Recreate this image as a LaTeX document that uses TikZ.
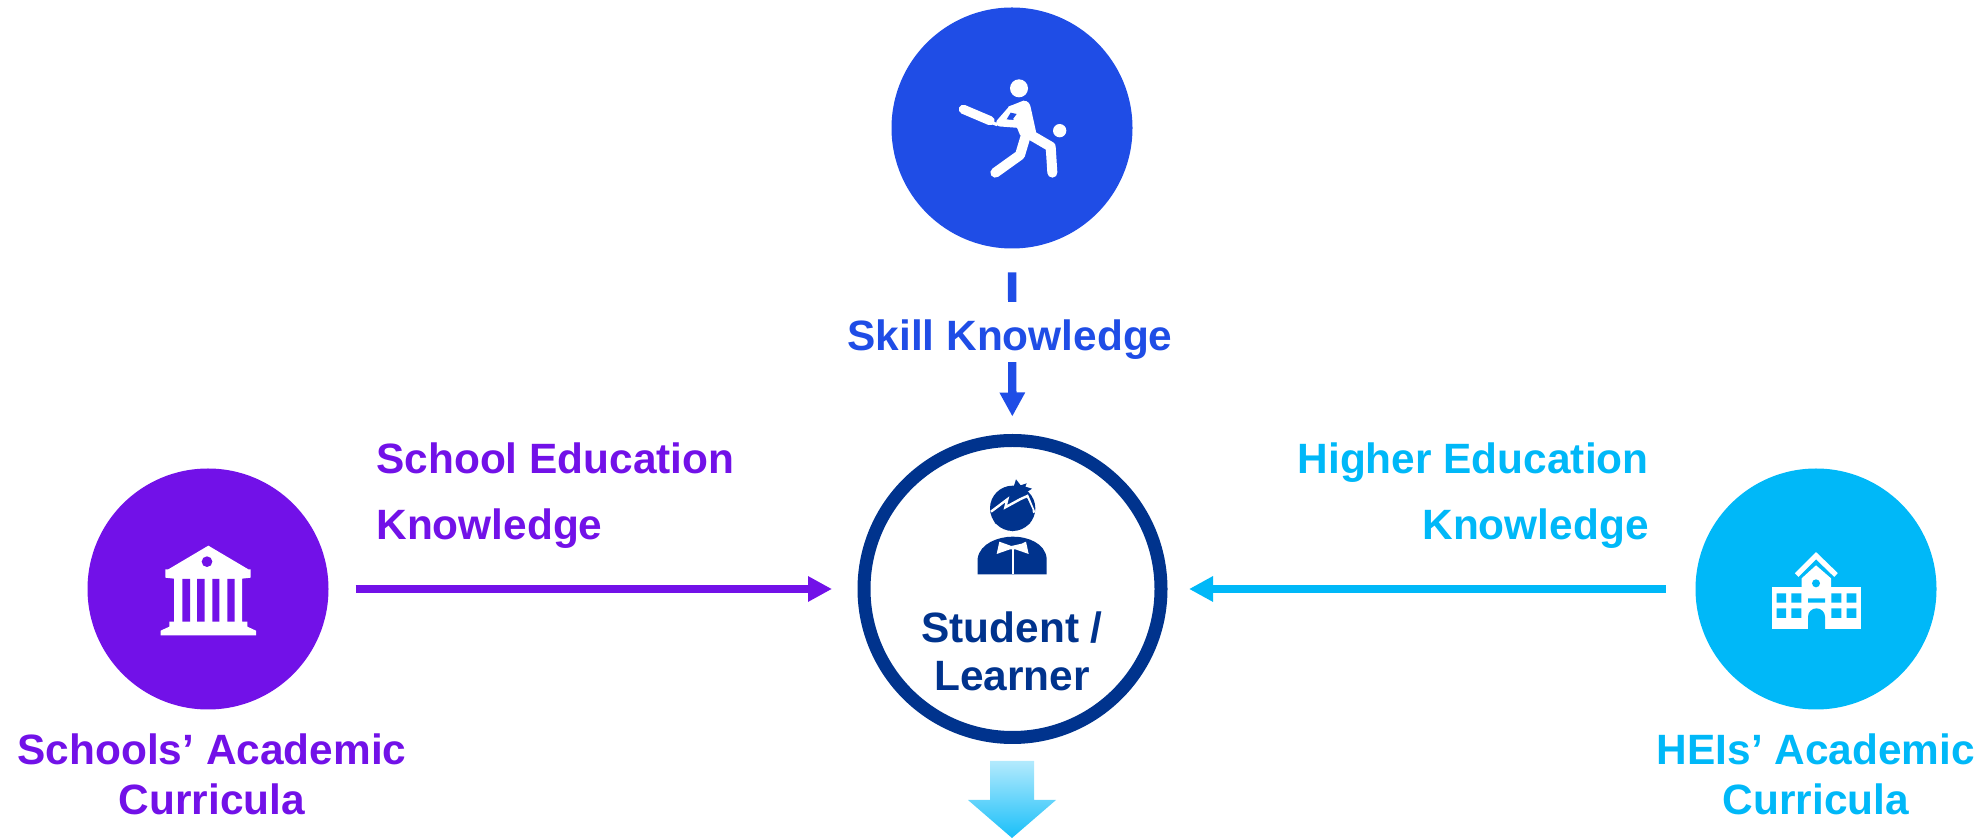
\documentclass[tikz,border=0pt]{standalone}
\usepackage{fontspec}
\setmainfont{Liberation Sans}
\usetikzlibrary{arrows.meta}
\definecolor{skillblue}{HTML}{1F4DE6}
\definecolor{schoolpurple}{HTML}{7211E8}
\definecolor{heicyan}{HTML}{00B8F8}
\definecolor{navy}{HTML}{00338D}
\tikzset{
  disc/.style={circle,minimum size=120.5pt,inner sep=0pt,outer sep=0pt,fill=#1},
  lbl/.style={text=#1,font=\fontsize{21.2}{33}\selectfont\bfseries,inner sep=0pt},
  link/.style={draw=#1,line width=4.2pt,-{Triangle[length=12pt,width=12pt]}},
  zoomed/.style={x=0.16667pt,y=-0.16667pt},
}
\begin{document}
\begin{tikzpicture}[x=0.5pt,y=-0.5pt]
\useasboundingbox (0,0) rectangle (1987,838);
% circles
\node[disc=skillblue] (skill) at (1012,128) {};
\node[disc=schoolpurple] (schools) at (208,589) {};
\node[disc=heicyan] (heis) at (1816,589) {};
\node[circle,draw=navy,line width=6.5pt,minimum size=148.5pt,inner sep=0pt,outer sep=0pt] (learner) at (1012.5,589) {};
% connectors
\draw[link=skillblue,shorten <=12pt,shorten >=12pt] (skill) -- (learner);
\node[lbl=skillblue,fill=white,anchor=base,text height=24.5pt,text depth=5.5pt] (skilllabel) at (1010,351) {Skill Knowledge};
\draw[link=schoolpurple,shorten <=13.5pt,shorten >=16pt] (schools) -- (learner);
\draw[link=heicyan,shorten <=15pt,shorten >=14pt] (heis) -- (learner);
% labels
\node[lbl=schoolpurple,align=left,anchor=west] (schoolknow) at (376,496) {School Education\\Knowledge};
\node[lbl=heicyan,align=right,anchor=east] (higherknow) at (1649,496) {Higher Education\\Knowledge};
\node[lbl=schoolpurple,align=center,font=\fontsize{21.2}{25}\selectfont\bfseries] (schoolscap) at (212,774) {Schools’ Academic\\Curricula};
\node[lbl=heicyan,align=center,font=\fontsize{21.2}{25}\selectfont\bfseries] (heiscap) at (1816,774) {HEIs’ Academic\\Curricula};
\node[lbl=navy,align=center,font=\fontsize{21.2}{24}\selectfont\bfseries] (learnerlabel) at (1012,651) {Student /\\Learner};
% batsman
\begin{scope}[shift={(880,0)},zoomed]
\fill[white] (417,265) circle (27);
\fill[white] (539,392) circle (20);
\draw[white,line width=4.6pt,line cap=round] (250,328) -- (330,362);
\draw[white,line width=1.6pt] (330,366) -- (352,374);
\fill[white] (385,320) -- (430,302) .. controls (445,302) and (450,312) .. (452,322) -- (468,395) -- (452,418) -- (420,405) -- cycle;
\draw[white,line width=3.8pt,line join=round,line cap=round] (395,328) -- (360,368) -- (412,372);
\fill[skillblue] (392,338) -- (410,342) -- (398,358) -- (380,358) -- cycle;
\draw[white,line width=5pt,line cap=round,line join=round] (346,518) -- (420,465) -- (438,405);
\draw[white,line width=5pt,line cap=round,line join=round] (452,405) -- (512,440) -- (517,518);
\end{scope}
% student
\begin{scope}[shift={(930,460)},zoomed]
\fill[navy] (248,145) circle (68);
\fill[navy] (248,90) -- (258,58) -- (272,76) -- (290,70) -- (286,80) -- (306,86) -- (285,100) -- cycle;
\draw[white,line width=1.2pt,line join=miter] (183,155) -- (232,118) -- (226,142) -- (270,118) -- (292,108) -- (313,158);
\fill[navy] (187,160) -- (225,150) -- (275,125) -- (292,115) -- (308,150) -- (300,190) -- (248,214) -- (195,190) -- cycle;
\fill[navy] (143,343) -- (143,295) .. controls (150,250) and (205,230) .. (248,230) .. controls (295,230) and (345,250) .. (350,295) -- (350,343) -- cycle;
\fill[white] (208,245) -- (244,258) -- (275,251) -- (288,245) -- (296,282) -- (256,268) -- (240,268) -- (200,282) -- cycle;
\fill[white] (245,262) rectangle (251,343);
\end{scope}
% institution
\begin{scope}[shift={(140,530)},zoomed]
\fill[white] (205,47) -- (325,118) -- (332,118) -- (332,143) -- (306,146) -- (306,275) -- (322,275) -- (322,290) -- (348,302) -- (348,316) -- (62,316) -- (62,302) -- (88,290) -- (88,275) -- (102,275) -- (102,146) -- (76,143) -- (76,118) -- (85,118) -- cycle;
\fill[schoolpurple] (201,95) circle (16);
\fill[schoolpurple] (127,147) rectangle (150,275) (171,147) rectangle (194,275) (217,147) rectangle (238,275) (262,147) rectangle (284,275);
\end{scope}
% school building
\begin{scope}[shift={(1750,540)},zoomed]
\draw[white,line width=2.6pt,miter limit=10] (140,105) -- (198,47) -- (258,105);
\fill[white] (155,142) -- (155,115) -- (198,76) -- (243,115) -- (243,142) -- cycle;
\fill[white] (65,141) rectangle (333,267);
\fill[heicyan] (198,130) circle (12);
\fill[heicyan] (80,160) rectangle (108,188) (124,160) rectangle (154,188) (80,205) rectangle (108,234) (124,205) rectangle (154,234)
  (244,160) rectangle (274,188) (290,160) rectangle (319,188) (244,205) rectangle (274,234) (290,205) rectangle (319,234)
  (174,175) rectangle (225,188);
\fill[heicyan] (174,267) -- (174,230) arc[start angle=180,end angle=360,x radius=25.5,y radius=25] -- (225,267) -- cycle;
\end{scope}
% outgoing block arrow
\path[top color=heicyan!30!white,bottom color=heicyan!90!white,draw=none] (990,761) -- (1034,761) -- (1034,800) -- (1056,800) -- (1012,838) -- (968,800) -- (990,800) -- cycle;
\end{tikzpicture}
\end{document}
